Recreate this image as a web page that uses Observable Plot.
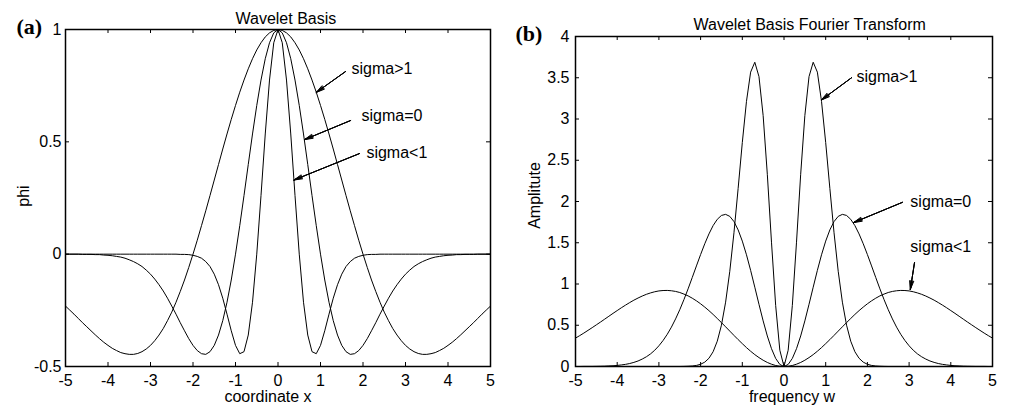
<!DOCTYPE html>
<html><head><meta charset="utf-8">
<script src="https://cdn.jsdelivr.net/npm/d3@7"></script>
<script src="https://cdn.jsdelivr.net/npm/@observablehq/plot@0.6"></script>
<style>
html,body{margin:0;padding:0;background:#fff;}
#wrap{display:flex;width:1013px;height:408px;}
</style></head><body><div id="wrap"></div>
<script>
// sampling positions (coordinate x / frequency w)
const xGrid = [-5,-4.9,-4.8,-4.7,-4.6,-4.5,-4.4,-4.3,-4.2,-4.1,-4,-3.9,-3.8,-3.7,-3.6,-3.5,-3.4,-3.3,-3.2,-3.1,-3,-2.9,-2.8,-2.7,-2.6,-2.5,-2.4,-2.3,-2.2,-2.1,-2,-1.9,-1.8,-1.7,-1.6,-1.5,-1.4,-1.3,-1.2,-1.1,-1,-0.9,-0.8,-0.7,-0.6,-0.5,-0.4,-0.3,-0.2,-0.1,0,0.1,0.2,0.3,0.4,0.5,0.6,0.7,0.8,0.9,1,1.1,1.2,1.3,1.4,1.5,1.6,1.7,1.8,1.9,2,2.1,2.2,2.3,2.4,2.5,2.6,2.7,2.8,2.9,3,3.1,3.2,3.3,3.4,3.5,3.6,3.7,3.8,3.9,4,4.1,4.2,4.3,4.4,4.5,4.6,4.7,4.8,4.9,5];

// (a) Wavelet Basis: phi
const phiSigmaGt1 = [-0.231,-0.249,-0.267,-0.286,-0.305,-0.323,-0.341,-0.359,-0.376,-0.392,-0.406,-0.419,-0.429,-0.438,-0.443,-0.446,-0.446,-0.442,-0.434,-0.422,-0.406,-0.385,-0.360,-0.331,-0.296,-0.258,-0.214,-0.166,-0.115,-0.059,0,0.062,0.127,0.193,0.261,0.330,0.399,0.468,0.535,0.600,0.662,0.721,0.775,0.825,0.870,0.909,0.941,0.967,0.985,0.996,1,0.996,0.985,0.967,0.941,0.909,0.870,0.825,0.775,0.721,0.662,0.600,0.535,0.468,0.399,0.330,0.261,0.193,0.127,0.062,0,-0.059,-0.115,-0.166,-0.214,-0.258,-0.296,-0.331,-0.360,-0.385,-0.406,-0.422,-0.434,-0.442,-0.446,-0.446,-0.443,-0.438,-0.429,-0.419,-0.406,-0.392,-0.376,-0.359,-0.341,-0.323,-0.305,-0.286,-0.267,-0.249,-0.231];
const phiSigmaEq0 = [0,0,0,0,-0.001,-0.001,-0.001,-0.002,-0.002,-0.004,-0.005,-0.007,-0.010,-0.013,-0.018,-0.025,-0.033,-0.043,-0.055,-0.071,-0.089,-0.111,-0.136,-0.164,-0.196,-0.231,-0.267,-0.305,-0.341,-0.376,-0.406,-0.429,-0.443,-0.446,-0.434,-0.406,-0.360,-0.296,-0.214,-0.115,0,0.127,0.261,0.399,0.535,0.662,0.775,0.870,0.941,0.985,1,0.985,0.941,0.870,0.775,0.662,0.535,0.399,0.261,0.127,0,-0.115,-0.214,-0.296,-0.360,-0.406,-0.434,-0.446,-0.443,-0.429,-0.406,-0.376,-0.341,-0.305,-0.267,-0.231,-0.196,-0.164,-0.136,-0.111,-0.089,-0.071,-0.055,-0.043,-0.033,-0.025,-0.018,-0.013,-0.010,-0.007,-0.005,-0.004,-0.002,-0.002,-0.001,-0.001,-0.001,0,0,0,0];
const phiSigmaLt1 = [0,0,0,0,0,0,0,0,0,0,0,0,0,0,0,0,0,0,0,0,0,0,0,0,0,0,0,-0.001,-0.001,-0.002,-0.005,-0.010,-0.018,-0.033,-0.055,-0.089,-0.136,-0.196,-0.267,-0.341,-0.406,-0.443,-0.434,-0.360,-0.214,0,0.261,0.535,0.775,0.941,1,0.941,0.775,0.535,0.261,0,-0.214,-0.360,-0.434,-0.443,-0.406,-0.341,-0.267,-0.196,-0.136,-0.089,-0.055,-0.033,-0.018,-0.010,-0.005,-0.002,-0.001,-0.001,0,0,0,0,0,0,0,0,0,0,0,0,0,0,0,0,0,0,0,0,0,0,0,0,0,0,0];

// (b) Wavelet Basis Fourier Transform: amplitude
const ampSigmaLt1 = [0.344,0.374,0.405,0.438,0.471,0.505,0.539,0.574,0.609,0.644,0.678,0.712,0.744,0.775,0.804,0.830,0.854,0.875,0.892,0.906,0.916,0.921,0.922,0.918,0.910,0.897,0.878,0.856,0.828,0.796,0.760,0.720,0.677,0.631,0.582,0.532,0.481,0.429,0.377,0.326,0.277,0.229,0.185,0.144,0.108,0.076,0.049,0.028,0.012,0.003,0,0.003,0.012,0.028,0.049,0.076,0.108,0.144,0.185,0.229,0.277,0.326,0.377,0.429,0.481,0.532,0.582,0.631,0.677,0.720,0.760,0.796,0.828,0.856,0.878,0.897,0.910,0.918,0.922,0.921,0.916,0.906,0.892,0.875,0.854,0.830,0.804,0.775,0.744,0.712,0.678,0.644,0.609,0.574,0.539,0.505,0.471,0.438,0.405,0.374,0.344];
const ampSigmaEq0 = [0,0,0.001,0.001,0.001,0.002,0.003,0.004,0.007,0.009,0.013,0.019,0.026,0.036,0.050,0.067,0.090,0.118,0.153,0.197,0.251,0.315,0.390,0.477,0.577,0.688,0.810,0.941,1.079,1.219,1.357,1.488,1.607,1.708,1.784,1.831,1.844,1.820,1.757,1.656,1.520,1.354,1.165,0.961,0.754,0.553,0.370,0.216,0.098,0.025,0,0.025,0.098,0.216,0.370,0.553,0.754,0.961,1.165,1.354,1.520,1.656,1.757,1.820,1.844,1.831,1.784,1.708,1.607,1.488,1.357,1.219,1.079,0.941,0.810,0.688,0.577,0.477,0.390,0.315,0.251,0.197,0.153,0.118,0.090,0.067,0.050,0.036,0.026,0.019,0.013,0.009,0.007,0.004,0.003,0.002,0.001,0.001,0.001,0,0];
const ampSigmaGt1 = [0,0,0,0,0,0,0,0,0,0,0,0,0,0,0,0,0,0,0,0,0,0,0,0,0,0,0.001,0.003,0.006,0.013,0.027,0.053,0.100,0.179,0.307,0.501,0.780,1.154,1.621,2.158,2.714,3.214,3.568,3.688,3.514,3.041,2.330,1.507,0.740,0.197,0,0.197,0.740,1.507,2.330,3.041,3.514,3.688,3.568,3.214,2.714,2.158,1.621,1.154,0.780,0.501,0.307,0.179,0.100,0.053,0.027,0.013,0.006,0.003,0.001,0,0,0,0,0,0,0,0,0,0,0,0,0,0,0,0,0,0,0,0,0,0,0,0,0,0];

// ticks
const xTicks = [-5,-4,-3,-2,-1,0,1,2,3,4,5];
const xTickLabels = ["-5","-4","-3","-2","-1","0","1","2","3","4","5"];
const yTicksA = [-0.5,0,0.5,1];
const yTickLabelsA = ["-0.5","0","0.5","1"];
const yTicksB = [0,0.5,1,1.5,2,2.5,3,3.5,4];
const yTickLabelsB = ["0","0.5","1","1.5","2","2.5","3","3.5","4"];

// annotations
const annLabels = ["sigma>1","sigma=0","sigma<1"];
const annTextXA = [1.73,1.965,2.08];
const annTextYA = [0.826,0.617,0.453];
const arrowFromXA = [1.59,1.71,1.92];
const arrowFromYA = [0.813,0.595,0.448];
const arrowToXA = [0.90,0.625,0.375];
const arrowToYA = [0.72,0.51,0.33];

const annTextXB = [1.74,3.03,3.03];
const annTextYB = [3.515,2.0,1.445];
const arrowFromXB = [1.62,2.84,3.13];
const arrowFromYB = [3.50,1.99,1.26];
const arrowToXB = [0.895,1.67,3.03];
const arrowToYB = [3.23,1.745,0.935];

const titleA = "Wavelet Basis";
const titleB = "Wavelet Basis Fourier Transform";

const FONT = '"Liberation Sans", Arial, Helvetica, sans-serif';

function seriesTable(list) {
  const rows = [];
  list.forEach(([name, ys]) => ys.forEach((y, i) => rows.push({x: xGrid[i], y, s: name})));
  return rows;
}
function annTable(tx, ty, x1, y1, x2, y2) {
  return annLabels.map((label, i) => ({label, tx: tx[i], ty: ty[i], x1: x1[i], y1: y1[i], x2: x2[i], y2: y2[i]}));
}
function tickMarks(yT, innerW, innerH) {
  const L = 4;
  return [
    Plot.tickX(xTicks, {x: d => d, insetTop: innerH - L, stroke: "black", strokeWidth: 1}),
    Plot.tickX(xTicks, {x: d => d, insetBottom: innerH - L, stroke: "black", strokeWidth: 1}),
    Plot.tickY(yT, {y: d => d, insetRight: innerW - L, stroke: "black", strokeWidth: 1}),
    Plot.tickY(yT, {y: d => d, insetLeft: innerW - L, stroke: "black", strokeWidth: 1})
  ];
}
function arrowMarks(ann) {
  return [8, 18, 28].map(a => Plot.arrow(ann, {x1: "x1", y1: "y1", x2: "x2", y2: "y2", headLength: 13, headAngle: a, stroke: "black", strokeWidth: 1}));
}

function panel({width, height, mL, mR, mT, mB, yDomain, yT, yTL, series, ann, title, titleDx, titleDy, tag, tagDx, tagDy, xlabel, xlabelDx, ylabel, ylabelDx, ylabelDy, yPad}) {
  const innerW = width - mL - mR, innerH = height - mT - mB;
  return Plot.plot({
    width, height, marginLeft: mL, marginRight: mR, marginTop: mT, marginBottom: mB,
    style: {fontFamily: FONT, fontSize: "16px", color: "black", background: "white", overflow: "visible"},
    x: {domain: [-5, 5], axis: null},
    y: {domain: yDomain, axis: null},
    marks: [
      Plot.line(seriesTable(series), {x: "x", y: "y", z: "s", stroke: "black", strokeWidth: 1}),
      ...tickMarks(yT, innerW, innerH),
      Plot.frame({stroke: "black", strokeWidth: 1.5}),
      Plot.text(xTicks, {x: d => d, frameAnchor: "bottom", dy: 8, lineAnchor: "top", textAnchor: "middle", text: d => xTickLabels[xTicks.indexOf(d)], fontSize: 16, fill: "black"}),
      Plot.text(yT, {y: d => d, frameAnchor: "left", dx: -yPad, lineAnchor: "middle", textAnchor: "end", text: d => yTL[yT.indexOf(d)], fontSize: 16, fill: "black"}),
      ...arrowMarks(ann),
      Plot.text(ann, {x: "tx", y: "ty", text: "label", textAnchor: "start", lineAnchor: "middle", fontSize: 16, fill: "black"}),
      Plot.text([title], {text: d => d, frameAnchor: "top-left", dx: titleDx, dy: titleDy, textAnchor: "start", lineAnchor: "bottom", fontSize: 16, fill: "black"}),
      Plot.text([tag], {text: d => d, frameAnchor: "top-left", dx: tagDx, dy: tagDy, textAnchor: "start", lineAnchor: "bottom", fontSize: 22, fontWeight: "bold", fontFamily: '"Liberation Serif", "Times New Roman", serif', fill: "black"}),
      Plot.text([xlabel], {text: d => d, frameAnchor: "bottom", dx: xlabelDx, dy: 35, textAnchor: "middle", lineAnchor: "bottom", fontSize: 16, fill: "black"}),
      Plot.text([ylabel], {text: d => d, frameAnchor: "left", dx: ylabelDx, dy: ylabelDy, rotate: -90, textAnchor: "middle", lineAnchor: "middle", fontSize: 16, fill: "black"})
    ]
  });
}

const left = panel({
  width: 506, height: 408, mL: 65, mR: 16, mT: 29, mB: 42,
  yDomain: [-0.5, 1], yT: yTicksA, yTL: yTickLabelsA,
  series: [["sigma>1", phiSigmaGt1], ["sigma=0", phiSigmaEq0], ["sigma<1", phiSigmaLt1]],
  ann: annTable(annTextXA, annTextYA, arrowFromXA, arrowFromYA, arrowToXA, arrowToYA),
  title: titleA, titleDx: 170, titleDy: -6,
  tag: "(a)", tagDx: -49, tagDy: 4,
  xlabel: "coordinate x", xlabelDx: -10,
  ylabel: "phi", ylabelDx: -42, ylabelDy: -2, yPad: 4
});
const right = panel({
  width: 507, height: 408, mL: 69, mR: 21, mT: 36, mB: 42,
  yDomain: [0, 4], yT: yTicksB, yTL: yTickLabelsB,
  series: [["sigma<1", ampSigmaLt1], ["sigma=0", ampSigmaEq0], ["sigma>1", ampSigmaGt1]],
  ann: annTable(annTextXB, annTextYB, arrowFromXB, arrowFromYB, arrowToXB, arrowToYB),
  title: titleB, titleDx: 118, titleDy: -7,
  tag: "(b)", tagDx: -60, tagDy: 4,
  xlabel: "frequency w", xlabelDx: 8,
  ylabel: "Amplitute", ylabelDx: -41, ylabelDy: -6, yPad: 6
});
document.getElementById("wrap").append(left, right);
</script>
</body></html>
